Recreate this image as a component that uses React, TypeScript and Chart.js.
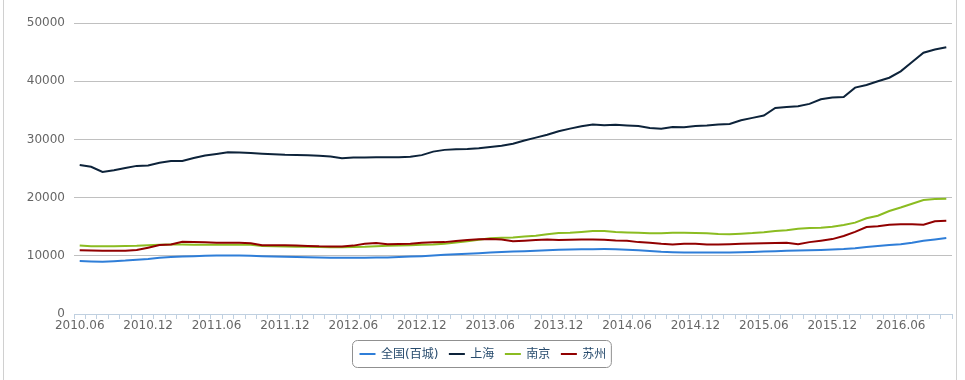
import React, { useEffect, useRef } from 'react';
import { Chart, registerables } from 'chart.js';

Chart.register(...registerables);

const categories = [
  '2010.06', '2010.07', '2010.08', '2010.09', '2010.10', '2010.11', '2010.12',
  '2011.01', '2011.02', '2011.03', '2011.04', '2011.05', '2011.06', '2011.07', '2011.08', '2011.09', '2011.10', '2011.11', '2011.12',
  '2012.01', '2012.02', '2012.03', '2012.04', '2012.05', '2012.06', '2012.07', '2012.08', '2012.09', '2012.10', '2012.11', '2012.12',
  '2013.01', '2013.02', '2013.03', '2013.04', '2013.05', '2013.06', '2013.07', '2013.08', '2013.09', '2013.10', '2013.11', '2013.12',
  '2014.01', '2014.02', '2014.03', '2014.04', '2014.05', '2014.06', '2014.07', '2014.08', '2014.09', '2014.10', '2014.11', '2014.12',
  '2015.01', '2015.02', '2015.03', '2015.04', '2015.05', '2015.06', '2015.07', '2015.08', '2015.09', '2015.10', '2015.11', '2015.12',
  '2016.01', '2016.02', '2016.03', '2016.04', '2016.05', '2016.06', '2016.07', '2016.08', '2016.09', '2016.10',
];

const nationalValues = [
  9100, 9020, 8980, 9080, 9180, 9330, 9450, 9650, 9800, 9870, 9930, 9990, 10040, 10060, 10050, 10000,
  9940, 9870, 9820, 9790, 9760, 9720, 9680, 9650, 9650, 9670, 9690, 9710, 9780, 9860, 9940, 10060,
  10180, 10270, 10360, 10450, 10550, 10640, 10720, 10800, 10880, 10960, 11020, 11070, 11110, 11140,
  11150, 11120, 11050, 10960, 10830, 10700, 10620, 10570, 10560, 10550, 10550, 10580, 10620, 10660,
  10730, 10790, 10850, 10890, 10940, 11000, 11080, 11160, 11300, 11530, 11700, 11860, 12000, 12250,
  12580, 12820, 13040,
];

const shanghaiValues = [
  25600, 25300, 24400, 24700, 25100, 25450, 25500, 26000, 26300, 26300, 26800, 27250, 27500, 27780,
  27750, 27650, 27550, 27450, 27350, 27300, 27260, 27200, 27050, 26750, 26900, 26900, 26950, 26950,
  26950, 27000, 27300, 27900, 28200, 28300, 28350, 28500, 28700, 28900, 29250, 29800, 30300, 30800,
  31400, 31850, 32250, 32550, 32450, 32500, 32400, 32300, 31950, 31850, 32150, 32100, 32300, 32400,
  32550, 32650, 33300, 33700, 34100, 35400, 35550, 35700, 36100, 36900, 37200, 37300, 38900, 39350,
  40000, 40600, 41700, 43300, 44900, 45450, 45850,
];

const nanjingValues = [
  11780, 11620, 11620, 11660, 11680, 11720, 11820, 11900, 11950, 11940, 11910, 11890, 11890, 11890,
  11890, 11880, 11700, 11640, 11600, 11560, 11540, 11500, 11490, 11490, 11520, 11560, 11650, 11720,
  11760, 11820, 11880, 11950, 12080, 12300, 12520, 12760, 13020, 13120, 13160, 13300, 13440, 13700,
  13930, 13980, 14100, 14240, 14280, 14070, 14000, 13950, 13880, 13860, 13940, 13940, 13900, 13860,
  13730, 13720, 13800, 13900, 14050, 14250, 14400, 14640, 14760, 14820, 15000, 15300, 15700, 16450,
  16880, 17700, 18300, 18950, 19600, 19740, 19800,
];

const suzhouValues = [
  10970, 10920, 10860, 10860, 10880, 10980, 11400, 11850, 11950, 12400, 12380, 12330, 12250, 12230,
  12230, 12150, 11830, 11830, 11800, 11780, 11700, 11620, 11600, 11600, 11750, 12050, 12180, 12000,
  12020, 12060, 12260, 12320, 12350, 12560, 12700, 12860, 12870, 12800, 12520, 12600, 12700, 12810,
  12700, 12740, 12810, 12810, 12750, 12640, 12580, 12350, 12230, 12050, 11950, 12050, 12050, 11950,
  11950, 12000, 12050, 12100, 12150, 12200, 12230, 12000, 12350, 12600, 12870, 13400, 14100, 14950,
  15080, 15350, 15440, 15440, 15350, 15950, 16020,
];

const seriesNames = ['全国(百城)', '上海', '南京', '苏州'];
const seriesColors = ['#2f7ed8', '#0d233a', '#8bbc21', '#910000'];
const yTickValues = [0, 10000, 20000, 30000, 40000, 50000];
const labelEvery = 6;

const FONT_FAMILY = '"DejaVu Sans", "Noto Sans CJK SC", sans-serif';

const legendBoxPlugin = {
  id: 'legendBox',
  afterDraw(chart: any) {
    const ctx = chart.ctx as CanvasRenderingContext2D;
    ctx.save();
    ctx.font = `12px ${FONT_FAMILY}`;
    const items = chart.data.datasets.map((ds: any) => ({
      label: ds.label as string,
      color: ds.borderColor as string,
      w: ctx.measureText(ds.label).width,
    }));
    const symW = 16;
    const symGap = 5.5;
    const itemGap = 10.5;
    const padL = 7;
    const padR = 5;
    let total = padL + padR;
    items.forEach((it: any, i: number) => {
      total += symW + symGap + it.w + (i > 0 ? itemGap : 0);
    });
    const centerX = 481;
    const left = Math.round(centerX - total / 2) + 0.5;
    const top = 340.5;
    const h = 27;
    const r = 5;
    ctx.beginPath();
    ctx.moveTo(left + r, top);
    ctx.lineTo(left + total - r, top);
    ctx.arcTo(left + total, top, left + total, top + r, r);
    ctx.lineTo(left + total, top + h - r);
    ctx.arcTo(left + total, top + h, left + total - r, top + h, r);
    ctx.lineTo(left + r, top + h);
    ctx.arcTo(left, top + h, left, top + h - r, r);
    ctx.lineTo(left, top + r);
    ctx.arcTo(left, top, left + r, top, r);
    ctx.closePath();
    ctx.lineWidth = 1;
    ctx.strokeStyle = '#909090';
    ctx.stroke();

    const cy = 354;
    let x = left + padL;
    ctx.textBaseline = 'middle';
    ctx.textAlign = 'left';
    items.forEach((it: any, i: number) => {
      if (i > 0) x += itemGap;
      ctx.beginPath();
      ctx.moveTo(x, cy);
      ctx.lineTo(x + symW, cy);
      ctx.strokeStyle = it.color;
      ctx.lineWidth = 2;
      ctx.stroke();
      x += symW + symGap;
      ctx.fillStyle = '#274b6d';
      ctx.fillText(it.label, x, cy + 0.5);
      x += it.w;
    });
    ctx.restore();
  },
};

export default function App() {
  const canvasRef = useRef<HTMLCanvasElement | null>(null);

  useEffect(() => {
    document.body.style.margin = '0';
    const canvas = canvasRef.current;
    if (!canvas) return;
    const seriesValues = [nationalValues, shanghaiValues, nanjingValues, suzhouValues];
    const chart = new Chart(canvas, {
      type: 'line',
      data: {
        labels: categories,
        datasets: seriesNames.map((name, i) => ({
          label: name,
          data: seriesValues[i],
          borderColor: seriesColors[i],
          backgroundColor: seriesColors[i],
          borderWidth: 2,
          pointRadius: 0,
          tension: 0,
          fill: false,
          order: seriesNames.length - i,
        })),
      },
      options: {
        responsive: false,
        animation: false,
        devicePixelRatio: 1,
        events: [],
        layout: { padding: { left: 0, right: 13, top: 23, bottom: 0 } },
        plugins: {
          legend: { display: false },
          tooltip: { enabled: false },
          title: { display: false },
        },
        scales: {
          x: {
            type: 'category',
            offset: true,
            grid: {
              display: true,
              offset: true,
              drawOnChartArea: false,
              drawTicks: true,
              tickLength: 5,
              color: '#C0D0E0',
              lineWidth: 1,
            },
            border: { display: true, color: '#C0D0E0', width: 1 },
            ticks: {
              autoSkip: false,
              maxRotation: 0,
              minRotation: 0,
              padding: 0,
              color: '#666666',
              font: { family: FONT_FAMILY, size: 12 },
              callback: (_v: any, i: number) => (i % labelEvery === 0 ? categories[i] : ''),
            },
            afterFit: (scale: any) => {
              scale.height = 66;
            },
          },
          y: {
            min: yTickValues[0],
            max: yTickValues[yTickValues.length - 1],
            afterBuildTicks: (scale: any) => {
              scale.ticks = yTickValues.map((v) => ({ value: v }));
            },
            grid: {
              color: '#C0C0C0',
              lineWidth: 1,
              drawTicks: false,
            },
            border: { display: false },
            ticks: {
              padding: 9,
              color: '#666666',
              font: { family: FONT_FAMILY, size: 12 },
              callback: (v: any) => String(v),
            },
            afterFit: (scale: any) => {
              scale.width = 74;
            },
          },
        },
      },
      plugins: [legendBoxPlugin],
    });
    return () => chart.destroy();
  }, []);

  return (
    <div style={{ position: 'relative', width: 965, height: 380, overflow: 'hidden' }}>
      <div
        style={{
          position: 'absolute',
          left: 3,
          top: 0,
          width: 954,
          height: 380,
          borderLeft: '1px solid #d0d0d0',
          borderRight: '1px solid #d0d0d0',
          boxSizing: 'border-box',
        }}
      />
      <canvas ref={canvasRef} width={965} height={380} style={{ position: 'absolute', left: 0, top: 0 }} />
    </div>
  );
}
